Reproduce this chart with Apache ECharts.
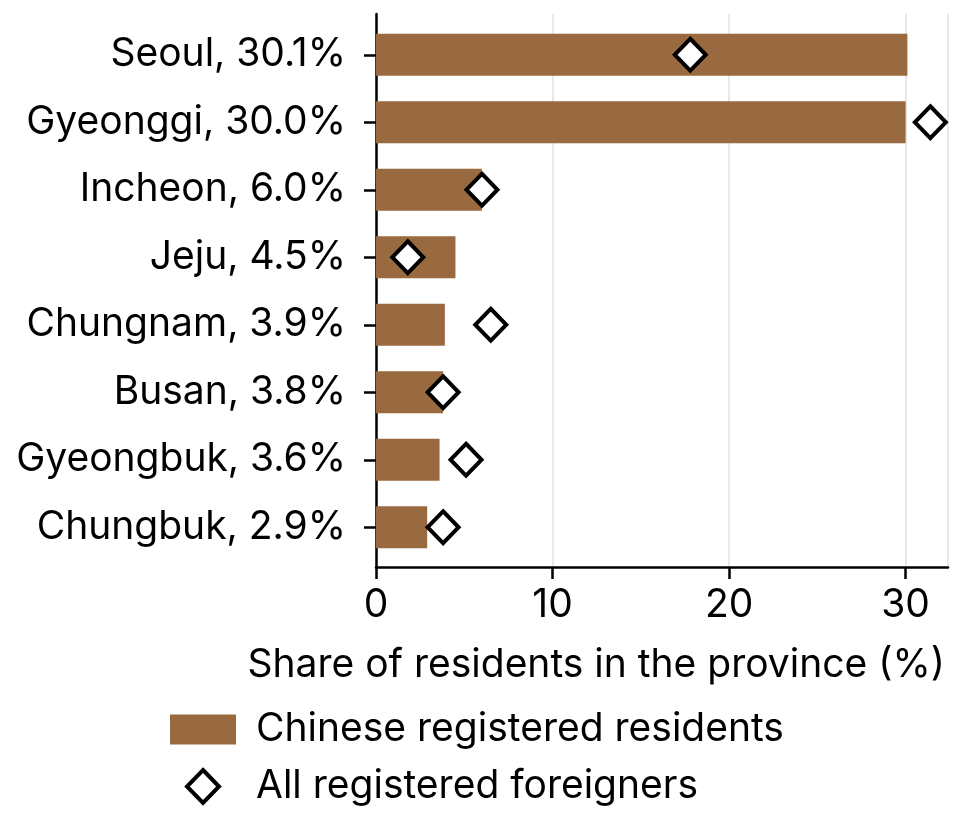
<!DOCTYPE html>
<html>
<head>
<meta charset="utf-8">
<script src="https://cdn.jsdelivr.net/npm/echarts@6/dist/echarts.min.js"></script>
<style>
html, body { margin: 0; padding: 0; background: #fff; }
#chart { width: 962px; height: 819px; }
</style>
</head>
<body>
<div id="chart"></div>
<script>
// province labels (top to bottom)
let provinces = ['Seoul, 30.1%', 'Gyeonggi, 30.0%', 'Incheon, 6.0%', 'Jeju, 4.5%', 'Chungnam, 3.9%', 'Busan, 3.8%', 'Gyeongbuk, 3.6%', 'Chungbuk, 2.9%'];
let chineseShare = [30.1, 30.0, 6.0, 4.5, 3.9, 3.8, 3.6, 2.9]; // bars
let foreignShare = [17.8, 31.4, 6.0, 1.8, 6.5, 3.8, 5.1, 3.8]; // diamonds
let xTicks = [0, 10, 20, 30];

let font = 'Inter, "Noto Sans", sans-serif';
let fs = 39;
let xMax = 32.4;

var myChart = echarts.init(document.getElementById('chart'));
option = {
    animation: false,
    textStyle: { fontFamily: font, color: '#000' },
    grid: [
        // grid 0 : bars and diamonds
        { left: 376, right: 14, top: 21, bottom: 258 },
        // grid 1 : frame (axis lines, x ticks, grid lines)
        { left: 376, right: 14, top: 14, bottom: 252 }
    ],
    legend: [
        {
            data: [{ name: 'Chinese registered residents', icon: 'rect' }],
            left: 165, top: 705,
            itemWidth: 66, itemHeight: 30,
            textStyle: { fontSize: fs, color: '#000', fontFamily: font, padding: [0, 0, 0, 15] }
        },
        {
            data: [{ name: 'All registered foreigners', icon: 'diamond' }],
            left: 180, top: 762,
            itemWidth: 32, itemHeight: 33,
            itemStyle: { color: '#fff', borderColor: '#000', borderWidth: 4 },
            textStyle: { fontSize: fs, color: '#000', fontFamily: font, padding: [0, 0, 0, 32] }
        }
    ],
    xAxis: [
        {
            gridIndex: 0, type: 'value', min: 0, max: xMax, interval: 10, show: false
        },
        {
            gridIndex: 1, type: 'value', min: 0, max: xMax, interval: 10,
            name: 'Share of residents in the province (%)',
            nameLocation: 'end', nameGap: -3,
            nameTextStyle: { fontSize: fs, color: '#000', fontFamily: font, align: 'right', verticalAlign: 'top', padding: [79, 0, 0, 0] },
            axisLine: { show: true, onZero: false, lineStyle: { color: '#000', width: 2.5 } },
            axisTick: { show: true, length: 12, lineStyle: { color: '#000', width: 2.5 } },
            axisLabel: {
                fontSize: fs, color: '#000', margin: 19, showMaxLabel: false,
                formatter: function (v) { return xTicks.indexOf(v) >= 0 ? String(v) : ''; }
            },
            splitLine: { show: true, lineStyle: { color: '#e8e8e8', width: 2 } }
        }
    ],
    yAxis: [
        {
            gridIndex: 0,
            type: 'category',
            data: provinces,
            inverse: true,
            axisLine: { show: false },
            axisTick: { show: true, length: 12, alignWithLabel: true, lineStyle: { color: '#000', width: 2.5 } },
            axisLabel: { fontSize: fs, color: '#000', margin: 30 },
            splitLine: { show: false }
        },
        {
            gridIndex: 1, type: 'value', min: 0, max: 1,
            axisLine: { show: true, onZero: false, lineStyle: { color: '#000', width: 2.5 } },
            axisTick: { show: false },
            axisLabel: { show: false },
            splitLine: { show: false }
        }
    ],
    series: [
        {
            name: 'Chinese registered residents',
            type: 'bar',
            xAxisIndex: 0, yAxisIndex: 0,
            data: chineseShare,
            barWidth: '62%',
            itemStyle: { color: '#996a3f' }
        },
        {
            name: 'All registered foreigners',
            type: 'scatter',
            xAxisIndex: 0, yAxisIndex: 0,
            data: foreignShare,
            symbol: 'diamond',
            symbolSize: [31, 32],
            itemStyle: { color: '#fff', borderColor: '#000', borderWidth: 4, opacity: 1 },
            z: 5
        }
    ]
};
myChart.setOption(option);
</script>
</body>
</html>
